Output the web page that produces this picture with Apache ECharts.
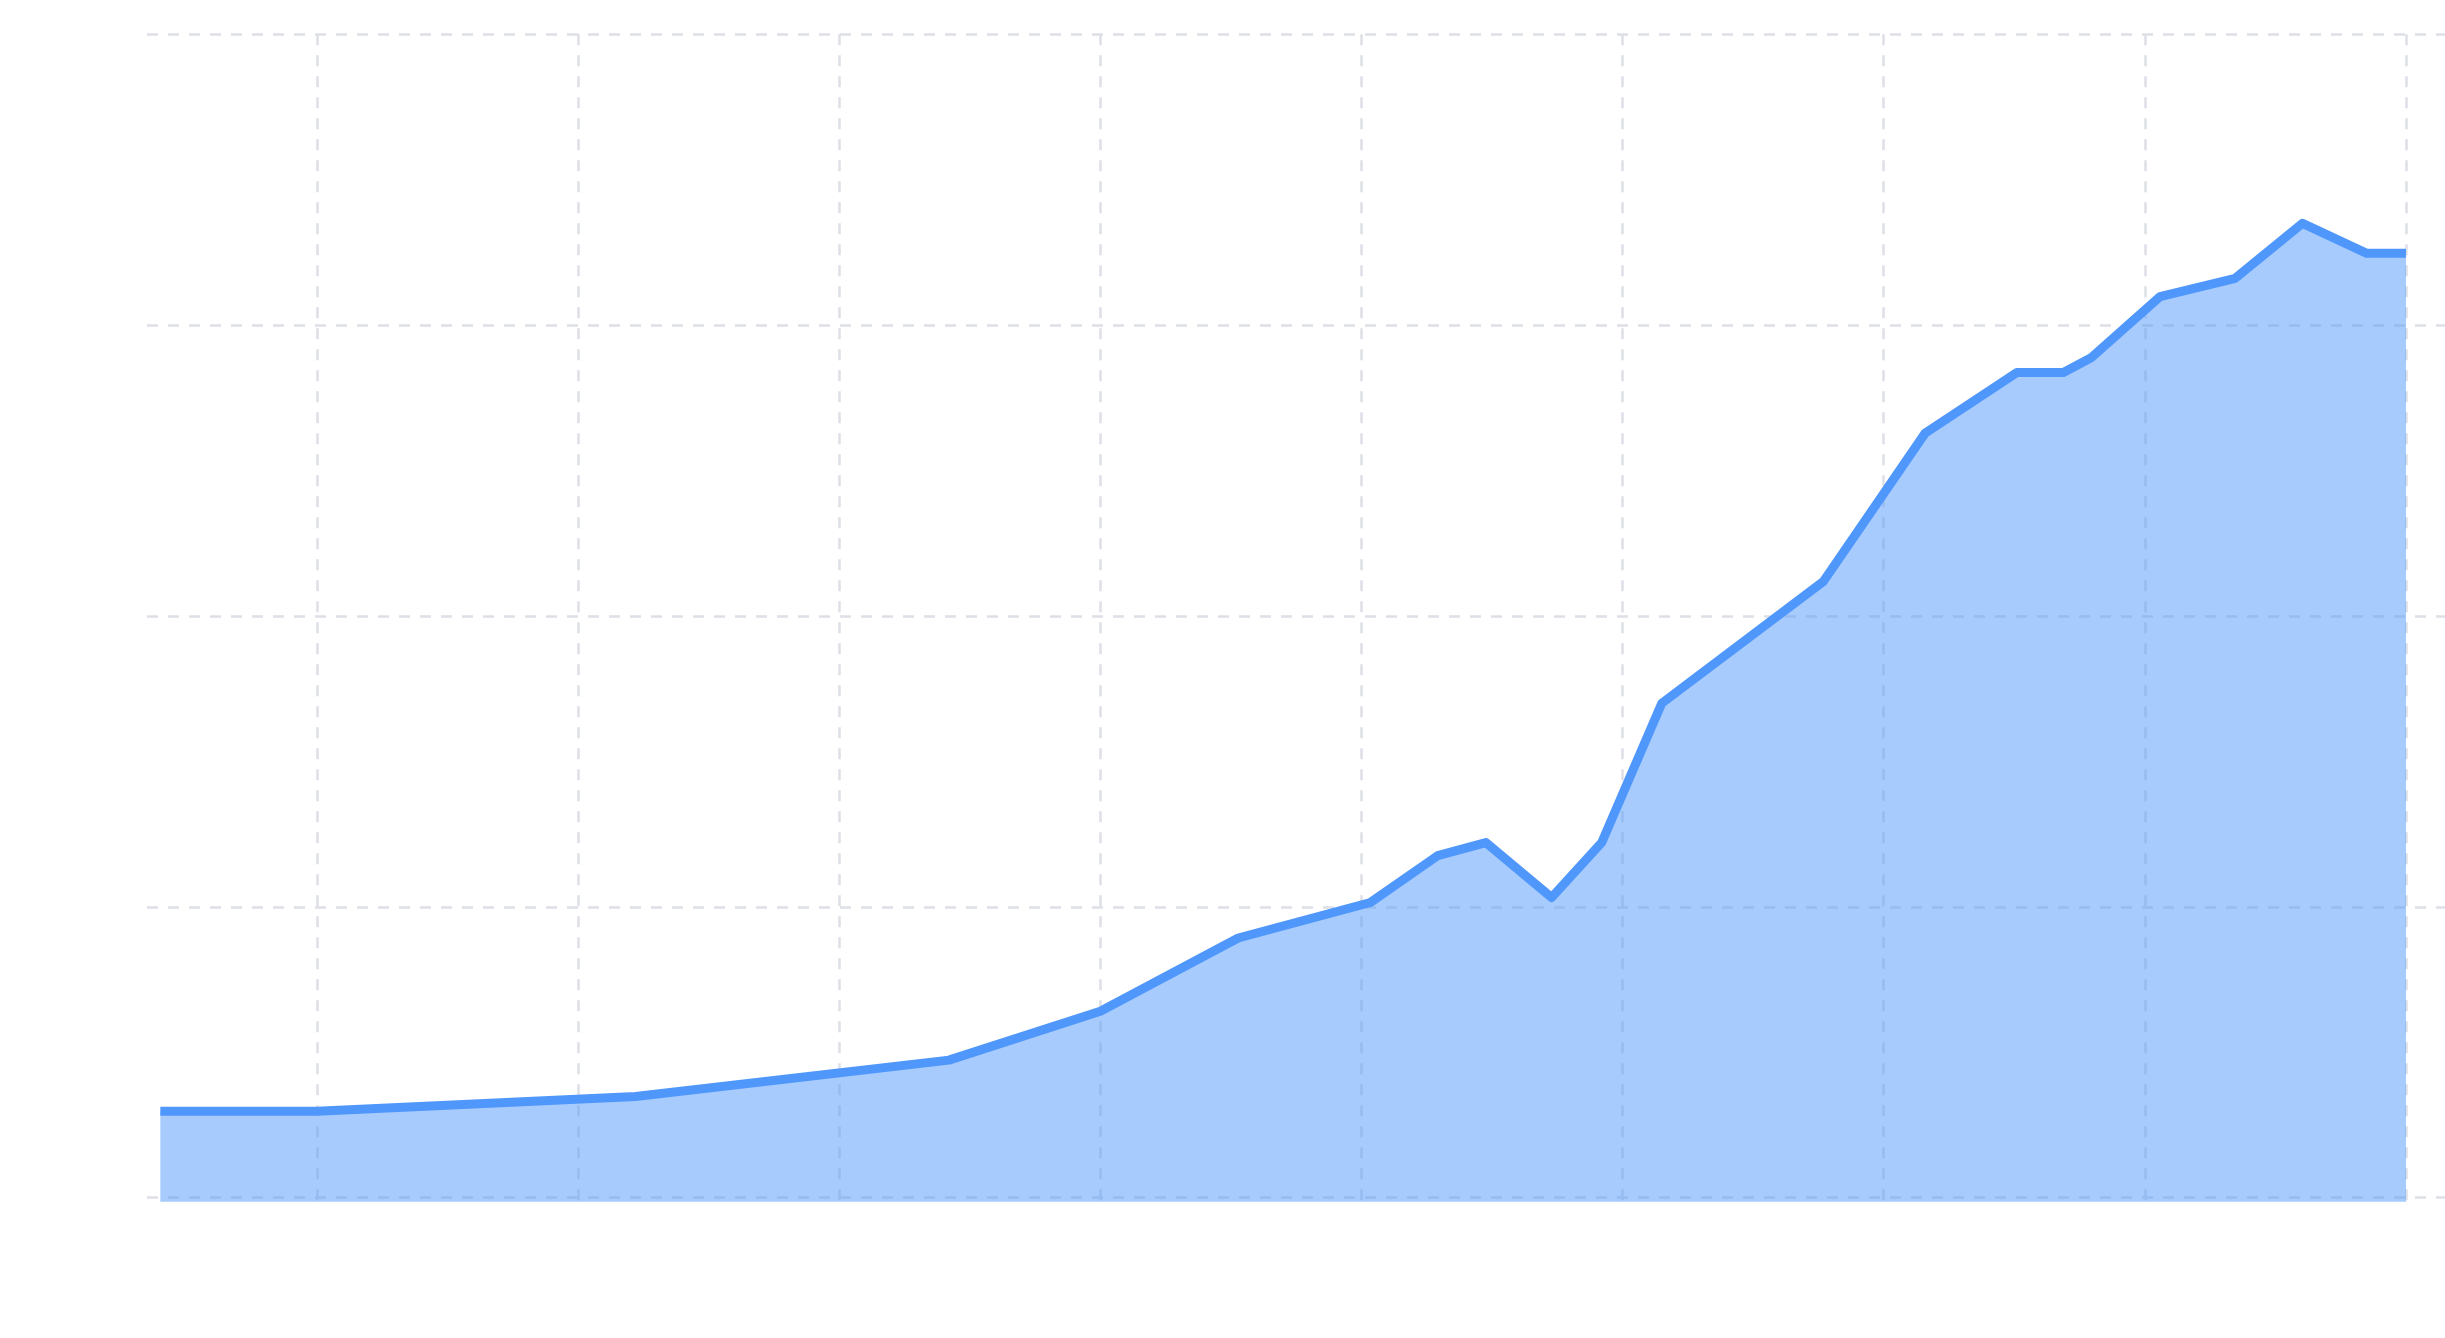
<!DOCTYPE html>
<html>
<head>
<meta charset="utf-8">
<script src="https://cdn.jsdelivr.net/npm/echarts@6/dist/echarts.min.js"></script>
<style>
  html, body { margin: 0; padding: 0; background: #ffffff; }
  #chart { width: 2445px; height: 1338px; }
</style>
</head>
<body>
<div id="chart"></div>
<script>
// x positions (axis units; grid ticks every 5)
const xValues = [2, 5, 11.1, 17.1, 20, 22.64, 25.17, 26.46, 27.38, 28.64, 29.6, 30.75, 33.84, 35.79, 37.55, 38.44, 38.98, 40.29, 41.73, 43.02, 44.25, 45];
// series values
const yValues = [29.7, 29.7, 34.8, 47.3, 64.1, 89.3, 101.5, 117.6, 122.1, 103.2, 122.1, 170.0, 211.8, 262.8, 283.7, 283.7, 288.9, 309.8, 316.1, 335.0, 324.7, 324.7];
// axis ranges
const xRange = [1.745, 45.747];
const yRange = [-1.375, 400];

const seriesData = xValues.map((x, i) => [x, yValues[i]]);

const chart = echarts.init(document.getElementById('chart'), null, { renderer: 'canvas' });
const gridLine = { color: '#dde0e6', width: 2.5, type: [11, 10] };

chart.setOption({
  animation: false,
  backgroundColor: '#ffffff',
  grid: { left: 147, right: 0, top: 34.3, bottom: 136.3, containLabel: false },
  xAxis: {
    type: 'value',
    min: xRange[0],
    max: xRange[1],
    splitNumber: 9,
    axisLine: { show: false },
    axisTick: { show: false },
    axisLabel: { show: false },
    splitLine: { show: true, showMinLine: false, showMaxLine: false, lineStyle: gridLine }
  },
  yAxis: {
    type: 'value',
    min: yRange[0],
    max: yRange[1],
    splitNumber: 4,
    axisLine: { show: false },
    axisTick: { show: false },
    axisLabel: { show: false },
    splitLine: { show: true, showMinLine: false, lineStyle: gridLine }
  },
  series: [{
    type: 'line',
    data: seriesData,
    showSymbol: false,
    symbol: 'none',
    smooth: false,
    lineStyle: { color: '#4f97fa', width: 9, join: 'round', cap: 'butt' },
    itemStyle: { color: '#4f97fa' },
    areaStyle: { color: '#4f97fa', opacity: 0.5, origin: 'start' }
  }]
});
</script>
</body>
</html>
